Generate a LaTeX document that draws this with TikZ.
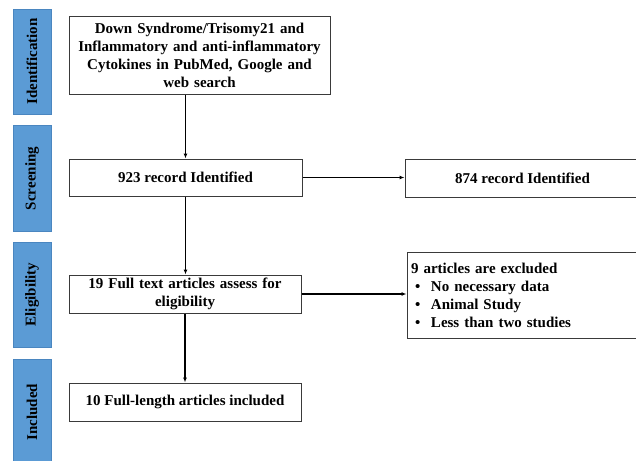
\documentclass[tikz,border=0pt]{standalone}
\usepackage{fontspec}
\setmainfont{Liberation Serif}
\usetikzlibrary{arrows.meta}
\definecolor{stageblue}{HTML}{5B9BD5}
\definecolor{stageedge}{HTML}{4A86C0}
\definecolor{boxedge}{HTML}{3A3A3A}
\tikzset{
  stagebar/.style={fill=stageblue,draw=stageedge,line width=0.6pt,minimum height=38pt,
    inner sep=0pt,font=\bfseries\fontsize{15}{18}\selectfont,rotate=90},
  flowbox/.style={draw=boxedge,line width=1pt,fill=white,inner sep=2pt,align=center,
    font=\bfseries\fontsize{15}{18}\selectfont},
  flowarrow/.style={line width=1.3pt,-{Latex[length=5pt,width=4pt]}}
}
\newcommand{\exclitem}{\hspace*{4pt}\makebox[16pt][l]{\textbullet}}
\begin{document}
\begin{tikzpicture}[x=1pt,y=-1pt]
\useasboundingbox (0,0) rectangle (636,460);

% stages
\node[stagebar,minimum width=105pt] (ident) at (32,61.5) {Identification};
\node[stagebar,minimum width=106pt] (screen) at (32,178.5) {Screening};
\node[stagebar,minimum width=105pt] (elig) at (32,294.5) {Eligibility};
\node[stagebar,minimum width=106pt] (incl) at (32,412) {Included};

% boxes
\node[flowbox,minimum width=261pt,minimum height=77pt,text width=255pt] (search) at (199.5,55.5)
  {Down Syndrome/Trisomy21 and\\Inflammatory and anti-inflammatory\\Cytokines in PubMed, Google and\\web search};
\node[flowbox,minimum width=233pt,minimum height=37pt] (rec923) at (185.5,177.5) {923 record Identified};
\node[flowbox,minimum width=235pt,minimum height=38pt] (rec874) at (522.5,178) {874 record Identified};
\node[flowbox,minimum width=232pt,minimum height=38pt,text width=226pt] (full19) at (185,294)
  {19 Full text articles assess for\\eligibility};
\node[flowbox,minimum width=233pt,minimum height=86pt,text width=225pt,align=left] (excl) at (523.5,295)
  {9 articles are excluded\\
   \exclitem No necessary data\\
   \exclitem Animal Study\\
   \exclitem Less than two studies};
\node[flowbox,minimum width=232pt,minimum height=38pt] (full10) at (185,402) {10 Full-length articles included};

% arrows
\draw[flowarrow] (search.south -| rec923.north) -- (rec923.north);
\draw[flowarrow] (rec923.south) -- (rec923.south |- full19.north);
\draw[flowarrow] (full19.south) -- (full10.north);
\draw[flowarrow] (rec923.east) -- (rec874.west |- rec923.east);
\draw[flowarrow] (full19.east) -- (excl.west |- full19.east);
\end{tikzpicture}
\end{document}
